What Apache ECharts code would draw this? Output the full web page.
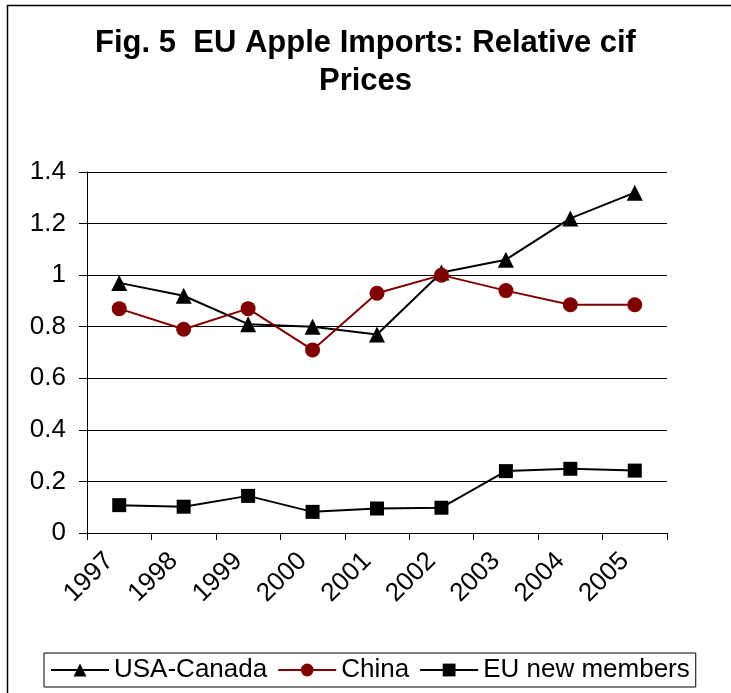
<!DOCTYPE html>
<html>
<head>
<meta charset="utf-8">
<script src="https://cdn.jsdelivr.net/npm/echarts@6/dist/echarts.min.js"></script>
<style>html,body{margin:0;padding:0;background:#fff;}#c{width:731px;height:693px;}</style>
</head>
<body>
<div id="c"></div>
<script>
const years = ['1997','1998','1999','2000','2001','2002','2003','2004','2005'];
const usaCanada = [0.97, 0.92, 0.81, 0.80, 0.77, 1.01, 1.06, 1.22, 1.32];
const china = [0.87, 0.79, 0.87, 0.71, 0.93, 1.00, 0.94, 0.885, 0.885];
const euNew = [0.108, 0.102, 0.144, 0.082, 0.095, 0.098, 0.24, 0.249, 0.242];

const FONT = '"Liberation Sans", Arial, sans-serif';
const chart = echarts.init(document.getElementById('c'), null, {renderer: 'canvas'});
chart.setOption({
  animation: false,
  backgroundColor: '#fff',
  textStyle: {fontFamily: FONT},
  title: {
    text: 'Fig. 5  EU Apple Imports: Relative cif\nPrices',
    left: 'center',
    top: 19,
    textStyle: {fontFamily: FONT, fontSize: 31, fontWeight: 'bold', color: '#000', lineHeight: 38}
  },
  graphic: [{
    type: 'rect', silent: true,
    shape: {x: 7.5, y: 5.5, width: 900, height: 900},
    style: {fill: 'none', stroke: '#000', lineWidth: 1.5}
  }],
  grid: {left: 87, right: 64, top: 172, bottom: 160, containLabel: false},
  legend: {
    left: 44, bottom: 6,
    padding: [4, 6],
    itemGap: 10,
    itemWidth: 58, itemHeight: 16,
    borderColor: '#000', borderWidth: 1,
    textStyle: {fontFamily: FONT, fontSize: 26, color: '#000', padding: [0, 0, 0, 0]},
    data: ['USA-Canada', 'China', 'EU new members']
  },
  xAxis: {
    type: 'category',
    data: years,
    boundaryGap: true,
    axisLine: {lineStyle: {color: '#000', width: 1}},
    axisTick: {show: true, interval: 0, length: 7, lineStyle: {color: '#000'}},
    axisLabel: {interval: 0, rotate: 45, margin: 14, fontSize: 26, color: '#000', fontFamily: FONT, padding: [0, 14, 0, 0]}
  },
  yAxis: {
    type: 'value',
    min: 0, max: 1.4, interval: 0.2,
    axisLine: {show: true, lineStyle: {color: '#000', width: 1}},
    axisTick: {show: true, length: 8, lineStyle: {color: '#000'}},
    axisLabel: {fontSize: 26, color: '#000', margin: 21, fontFamily: FONT},
    splitLine: {show: true, lineStyle: {color: '#000', width: 1}}
  },
  series: [
    {
      name: 'USA-Canada', type: 'line', data: usaCanada,
      symbol: 'triangle', symbolSize: 16,
      lineStyle: {color: '#000', width: 2},
      itemStyle: {color: '#000'}
    },
    {
      name: 'China', type: 'line', data: china,
      symbol: 'circle', symbolSize: 15,
      lineStyle: {color: '#800000', width: 2},
      itemStyle: {color: '#800000'}
    },
    {
      name: 'EU new members', type: 'line', data: euNew,
      symbol: 'rect', symbolSize: 14,
      lineStyle: {color: '#000', width: 2},
      itemStyle: {color: '#000'}
    }
  ]
});
</script>
</body>
</html>
